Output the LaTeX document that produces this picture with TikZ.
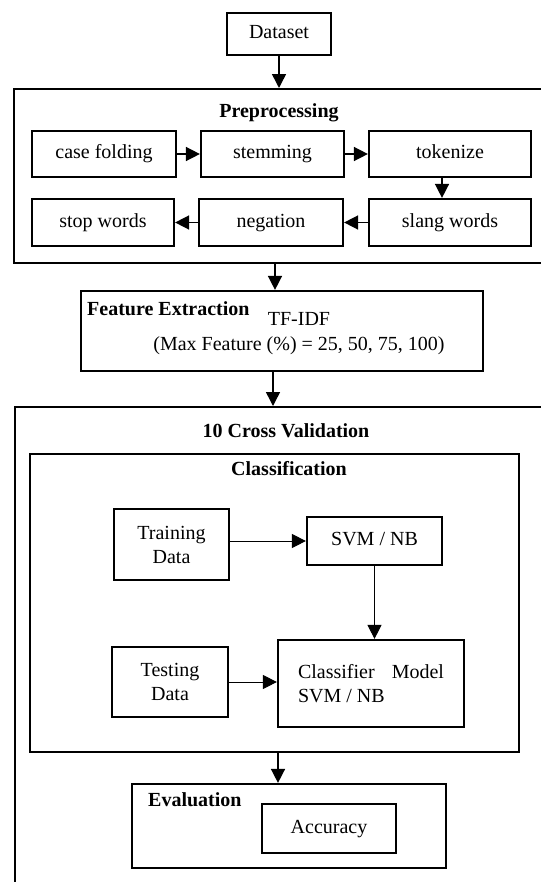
\documentclass[tikz,border=0pt]{standalone}
\usepackage{fontspec}
\setmainfont{Liberation Serif}
\usetikzlibrary{arrows.meta,positioning}

\begin{document}
\begin{tikzpicture}[>={Triangle[length=14bp,width=14bp]},
  box/.style={draw,line width=2.2bp,inner sep=0pt,align=center,font=\fontsize{20bp}{24bp}\selectfont},
  onebox/.style={box,text height=14bp,text depth=4.5bp},
  frame/.style={draw,line width=2bp,inner sep=0pt,anchor=north west},
  title/.style={inner sep=0pt,font=\fontsize{20bp}{24bp}\selectfont\bfseries},
  txt/.style={inner sep=0pt,align=center,font=\fontsize{20bp}{25bp}\selectfont},
  flow/.style={->,line width=1.5bp},
  thinflow/.style={->,line width=1bp}]

\useasboundingbox (0bp,0bp) rectangle (541bp,-882bp);
\clip (0bp,0bp) rectangle (541bp,-882bp);

\node (data) at (279bp,-34bp)[onebox,minimum width=104bp,minimum height=42bp] {Dataset};

% preprocessing
\node (prep) at (13bp,-88bp)[frame,minimum width=560bp,minimum height=174bp] {};
\node (prept) at (279bp,-113bp)[title] {Preprocessing};
\node (fold) at (104bp,-154bp)[onebox,minimum width=144bp,minimum height=46bp] {case folding};
\node (stem) at (272.5bp,-154bp)[onebox,minimum width=143bp,minimum height=46bp] {stemming};
\node (tok) at (450bp,-154bp)[onebox,minimum width=162bp,minimum height=46bp] {tokenize};
\node (stop) at (103bp,-222.5bp)[onebox,minimum width=142bp,minimum height=47bp] {stop words};
\node (neg) at (271bp,-222.5bp)[onebox,minimum width=144bp,minimum height=47bp] {negation};
\node (slang) at (450bp,-222.5bp)[onebox,minimum width=162bp,minimum height=47bp] {slang words};

% feature extraction
\node (feat) at (282bp,-331bp)[box,minimum width=402bp,minimum height=80bp] {};
\node (featt) at (87bp,-309bp)[title,anchor=west] {Feature Extraction};
\node (tfidf) at (299bp,-334bp)[txt] {TF-IDF\\(Max Feature (\%) = 25, 50, 75, 100)};

% cross validation
\node (cv) at (14bp,-406bp)[frame,minimum width=560bp,minimum height=520bp] {};
\node (cvt) at (286bp,-431bp)[title] {10 Cross Validation};
\node (class) at (29bp,-453bp)[frame,minimum width=489bp,minimum height=298bp] {};
\node (classt) at (289bp,-469bp)[title] {Classification};
\node (train) at (171.5bp,-544.5bp)[box,minimum width=115bp,minimum height=71bp] {Training\\Data};
\node (svm) at (374.5bp,-541bp)[onebox,minimum width=135bp,minimum height=48bp] {SVM / NB};
\node (test) at (170bp,-682bp)[box,minimum width=116bp,minimum height=70bp] {Testing\\Data};
\node (clf) at (371bp,-683.5bp)[box,minimum width=186bp,minimum height=87bp,align=left] {\makebox[146bp][s]{Classifier Model}\\SVM / NB};

% evaluation
\node (eval) at (289bp,-826bp)[box,minimum width=314bp,minimum height=84bp] {};
\node (evalt) at (148bp,-800bp)[title,anchor=west] {Evaluation};
\node (acc) at (329bp,-828.5bp)[onebox,minimum width=134bp,minimum height=49bp] {Accuracy};

\draw [flow] (data) to (data |- prep.north);
\draw [flow] (fold) to (stem);
\draw [flow] (stem) to (tok);
\draw [flow] ([xshift=-8bp]tok.south) to ([xshift=-8bp]tok.south |- slang.north);
\draw [flow] (slang) to (neg);
\draw [flow] (neg) to (stop);
\draw [flow] ([xshift=-7bp]feat.north |- prep.south) to ([xshift=-7bp]feat.north);
\draw [flow] ([xshift=-9bp]feat.south) to ([xshift=-9bp]feat.south |- cv.north);
\draw [thinflow] (train.east |- svm.west) to (svm.west);
\draw [thinflow] (svm) to (svm |- clf.north);
\draw [thinflow] (test.east) to (clf.west |- test.east);
\draw [flow] ([xshift=-11bp]eval.north |- class.south) to ([xshift=-11bp]eval.north);
\end{tikzpicture}
\end{document}
